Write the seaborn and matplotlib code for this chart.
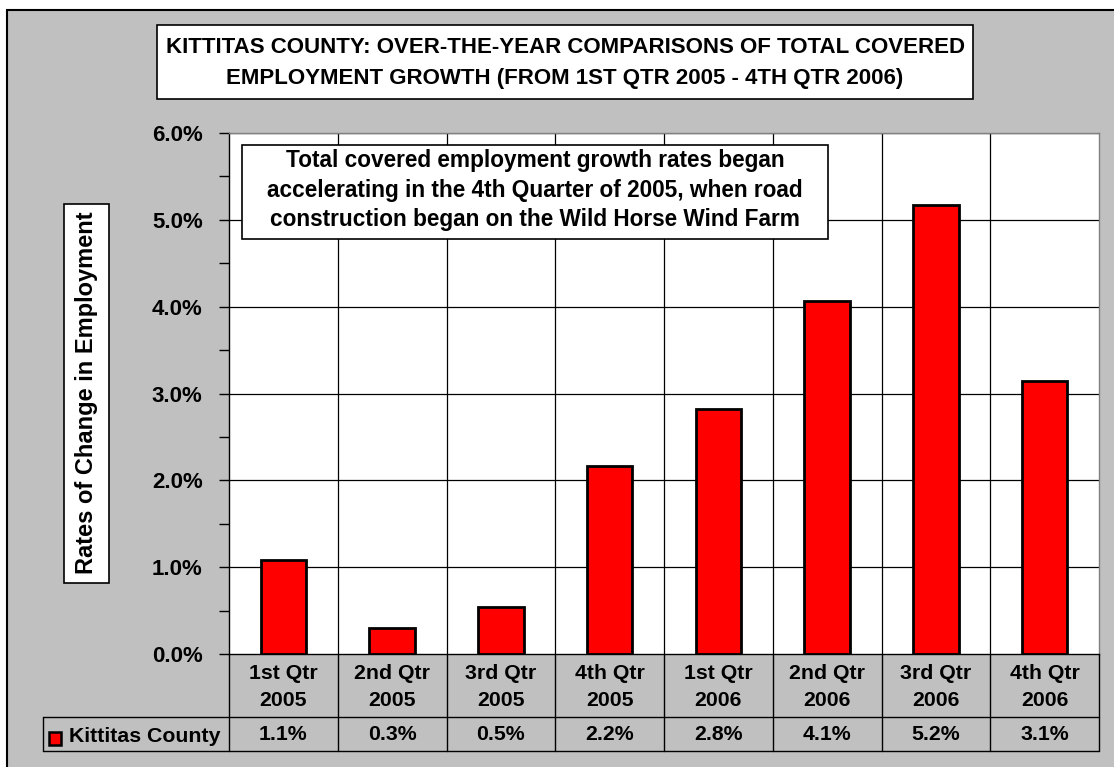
import numpy as np
import pandas as pd
import seaborn as sns
import matplotlib.pyplot as plt
import matplotlib.transforms as mtransforms
from matplotlib.patches import Rectangle

# data
quarters = ['1st Qtr\n2005', '2nd Qtr\n2005', '3rd Qtr\n2005', '4th Qtr\n2005',
            '1st Qtr\n2006', '2nd Qtr\n2006', '3rd Qtr\n2006', '4th Qtr\n2006']
growth = [1.08, 0.30, 0.54, 2.17, 2.82, 4.07, 5.17, 3.14]
series_name = 'Kittitas County'
y_ticks = [0, 1, 2, 3, 4, 5, 6]

title = ('KITTITAS COUNTY: OVER-THE-YEAR COMPARISONS OF TOTAL COVERED\n'
         'EMPLOYMENT GROWTH (FROM 1ST QTR 2005 - 4TH QTR 2006)')
note = ('Total covered employment growth rates began\n'
        'accelerating in the 4th Quarter of 2005, when road\n'
        'construction began on the Wild Horse Wind Farm')
ylabel = 'Rates of Change in Employment'

sns.set_style('white')
plt.rcParams['font.family'] = ['Liberation Sans', 'DejaVu Sans']
plt.rcParams['font.weight'] = 'bold'
plt.rcParams['text.color'] = 'black'
plt.rcParams['ytick.color'] = 'black'
plt.rcParams['ytick.labelcolor'] = 'black'

W, H = 1114, 767
fig = plt.figure(figsize=(W / 100, H / 100), dpi=100)
fig.patch.set_facecolor('white')


def fx(x):
    return x / W


def fy(y):
    return 1 - y / H


# grey chart area, framed on top and left (runs off the right and bottom)
fig.patches.append(Rectangle((fx(7), -0.1), 1.2, fy(10) + 0.1, transform=fig.transFigure,
                             facecolor='#c0c0c0', edgecolor='black', lw=1.5, zorder=-5))

ax = fig.add_axes([fx(229), fy(654), fx(1099) - fx(229), fy(133) - fy(654)])
ax.set_facecolor('white')

df = pd.DataFrame({'quarter': quarters, 'growth': growth})
sns.barplot(data=df, x='quarter', y='growth', color='#ff0000', saturation=1,
            edgecolor='black', linewidth=2, width=0.42, ax=ax, zorder=3)

ax.set_xlim(-0.5, len(quarters) - 0.5)
ax.set_ylim(0, 6)
ax.set_yticks(y_ticks)
ax.set_yticklabels([f'{v:.1f}%' for v in y_ticks], fontsize=16, fontweight='bold')
ax.set_yticks(np.arange(0.5, 6, 1), minor=True)
ax.tick_params(axis='y', which='both', direction='out', length=7, width=1,
               color='black', left=True, pad=12)
ax.tick_params(axis='x', bottom=False, labelbottom=False)
ax.set_xlabel('')
ax.set_ylabel('')

for v in y_ticks[1:]:
    ax.axhline(v, color='black', lw=0.9, zorder=1)
for k in range(1, len(quarters)):
    ax.axvline(k - 0.5, color='black', lw=0.9, zorder=1)

for side in ['top', 'right']:
    ax.spines[side].set_color('#808080')
    ax.spines[side].set_linewidth(1)
for side in ['left', 'bottom']:
    ax.spines[side].set_color('black')
    ax.spines[side].set_linewidth(1)

# data table under the axis
trans = mtransforms.blended_transform_factory(ax.transData, fig.transFigure)
for i, (q, v) in enumerate(zip(quarters, growth)):
    ax.text(i, fy(687), q, transform=trans, ha='center', va='center',
            fontsize=15.3, fontweight='bold', linespacing=1.5)
    ax.text(i, fy(735), f'{v:.1f}%', transform=trans, ha='center', va='center',
            fontsize=15.3, fontweight='bold')

line_kw = dict(color='black', lw=1, transform=fig.transFigure, clip_on=False)
for k in range(len(quarters) + 1):
    xx = fx(229 + k * 870 / len(quarters))
    fig.add_artist(plt.Line2D([xx, xx], [fy(654), fy(751)], **line_kw))
fig.add_artist(plt.Line2D([fx(43), fx(1099)], [fy(717), fy(717)], **line_kw))
fig.add_artist(plt.Line2D([fx(43), fx(1099)], [fy(751), fy(751)], **line_kw))
fig.add_artist(plt.Line2D([fx(43), fx(43)], [fy(717), fy(751)], **line_kw))

fig.patches.append(Rectangle((fx(49), fy(745)), fx(12), fy(732) - fy(745),
                             transform=fig.transFigure, facecolor='#ff0000',
                             edgecolor='black', lw=1.8, zorder=5))
fig.text(fx(69), fy(736), series_name, ha='left', va='center',
         fontsize=15.3, fontweight='bold')

# title box
fig.patches.append(Rectangle((fx(157), fy(99)), fx(973) - fx(157), fy(25) - fy(99),
                             transform=fig.transFigure, facecolor='white',
                             edgecolor='black', lw=1.2, zorder=2))
fig.text(fx(565), fy(63), title, ha='center', va='center', fontsize=16,
         fontweight='bold', linespacing=1.6, zorder=3)

# note box inside plot
fig.patches.append(Rectangle((fx(242), fy(239)), fx(828) - fx(242), fy(145) - fy(239),
                             transform=fig.transFigure, facecolor='white',
                             edgecolor='black', lw=1.2, zorder=6))
fig.text(fx(535), fy(190), note, ha='center', va='center', fontsize=16.3,
         fontweight='bold', linespacing=1.38, zorder=7)

# y label box
fig.patches.append(Rectangle((fx(64), fy(583)), fx(109) - fx(64), fy(204) - fy(583),
                             transform=fig.transFigure, facecolor='white',
                             edgecolor='black', lw=1.2, zorder=2))
fig.text(fx(87), fy(393), ylabel, ha='center', va='center', rotation=90,
         fontsize=17, fontweight='bold', zorder=3)

fig.savefig('out.png', dpi=100)
